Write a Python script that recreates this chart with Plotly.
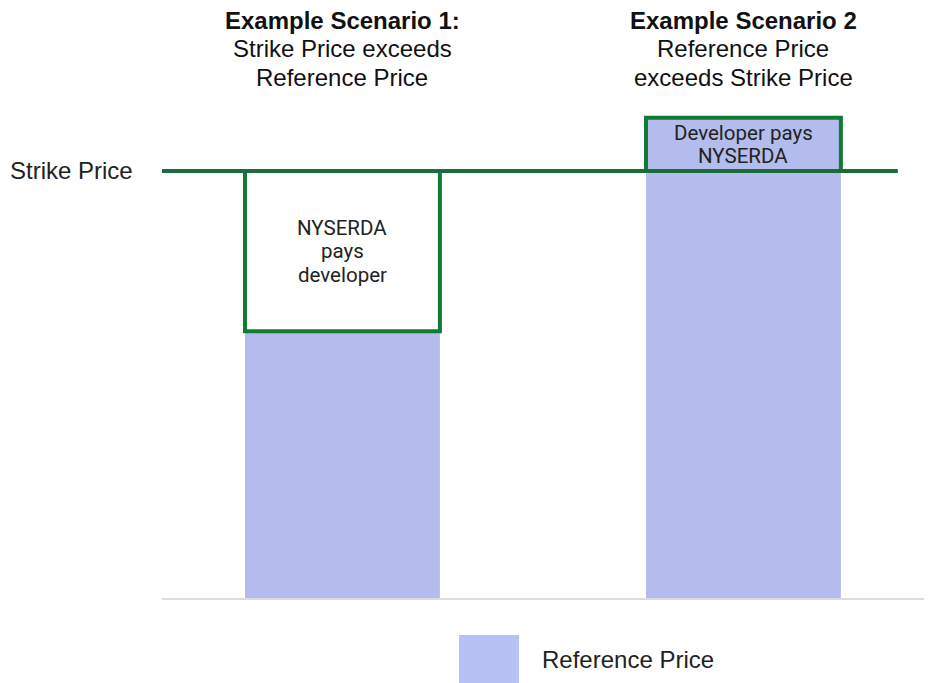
import plotly.graph_objects as go

# ---- data ----
scenarios = [0, 1]
scenario_titles = [
    ["<b>Example Scenario 1:</b>", "Strike Price exceeds", "Reference Price"],
    ["<b>Example Scenario 2</b>", "Reference Price", "exceeds Strike Price"],
]
reference_price = [62.5, 112.5]
strike_price = 100
box_labels = [["NYSERDA", "pays", "developer"], ["Developer pays", "NYSERDA"]]
series_name = "Reference Price"
strike_label = "Strike Price"

# ---- style ----
W, H = 932, 683
OFF = 8  # page body margin
ML, MT = 162 - OFF, 100 - OFF
MR = 0
PX_PER_CAT = 401
X_MIN = -0.45
PW, PH = W - ML - MR, 498
MB = H - MT - PH
BAR_W = 0.486
BAR_COLOR = "#b3bcec"
LINE_GREEN = "#1c6b3d"
BOX_GREEN = "#137a36"
FONT = "Liberation Sans, Arial, sans-serif"
INNER_FONT = "Roboto, sans-serif"
PX_PER_UNIT = 4.27


def px_to_paper_x(px):
    return (px - OFF - ML) / PW


def px_to_paper_y(py):
    return (MT + PH - (py - OFF)) / PH


fig = go.Figure()
fig.add_trace(go.Bar(
    x=scenarios, y=reference_price, width=BAR_W,
    marker=dict(color=BAR_COLOR, line=dict(width=0)),
    name=series_name, showlegend=False, hoverinfo="skip",
))

# payment boxes between reference price and strike price
for i, ref in enumerate(reference_price):
    lo, hi = min(ref, strike_price), max(ref, strike_price)
    fig.add_shape(type="rect", xref="x", yref="y",
                  x0=scenarios[i] - BAR_W / 2, x1=scenarios[i] + BAR_W / 2,
                  y0=lo, y1=hi,
                  fillcolor="white" if ref < strike_price else "rgba(0,0,0,0)",
                  line=dict(color=BOX_GREEN, width=4), layer="above")
    lines = box_labels[i]
    n = len(lines)
    spacing = 23.5
    for j, t in enumerate(lines):
        fig.add_annotation(x=scenarios[i], y=(lo + hi) / 2, xref="x", yref="y",
                           yshift=((n - 1) / 2 - j) * spacing,
                           text=t, showarrow=False, yanchor="middle",
                           font=dict(family=INNER_FONT, size=20.5, color="#222"))

# strike price line
fig.add_shape(type="line", xref="x", yref="y", x0=-0.45, x1=1.385,
              y0=strike_price, y1=strike_price,
              line=dict(color=LINE_GREEN, width=4), layer="above")
fig.add_annotation(x=0, xref="paper", y=strike_price, yref="y", xanchor="right",
                   xshift=-27, yshift=1, text=strike_label, showarrow=False,
                   font=dict(family=FONT, size=24, color="#222"))

# scenario titles
line_y = [20, 48.5, 77]
for i, lines in enumerate(scenario_titles):
    for j, t in enumerate(lines):
        fig.add_annotation(x=scenarios[i], xref="x", y=px_to_paper_y(line_y[j]),
                           yref="paper", yanchor="middle", text=t, showarrow=False,
                           font=dict(family=FONT, size=24, color="#111"))

# legend (drawn)
fig.add_shape(type="rect", xref="paper", yref="paper",
              x0=px_to_paper_x(459), x1=px_to_paper_x(519),
              y0=px_to_paper_y(635), y1=px_to_paper_y(692),
              fillcolor="#b8c1f4", line=dict(width=0))
fig.add_annotation(x=px_to_paper_x(540), xref="paper", y=px_to_paper_y(659),
                   yref="paper", xanchor="left", yanchor="middle",
                   text=series_name, showarrow=False,
                   font=dict(family=FONT, size=24, color="#222"))

fig.update_layout(
    width=W, height=H, margin=dict(l=ML, r=MR, t=MT, b=MB),
    paper_bgcolor="white", plot_bgcolor="white",
    xaxis=dict(range=[X_MIN, X_MIN + PW / PX_PER_CAT], showgrid=False,
               zeroline=False, showticklabels=False, showline=True,
               linecolor="#dcdcdc", linewidth=2, ticks=""),
    yaxis=dict(range=[0, PH / PX_PER_UNIT], visible=False),
    showlegend=False,
)

fig.write_html("out.html")
